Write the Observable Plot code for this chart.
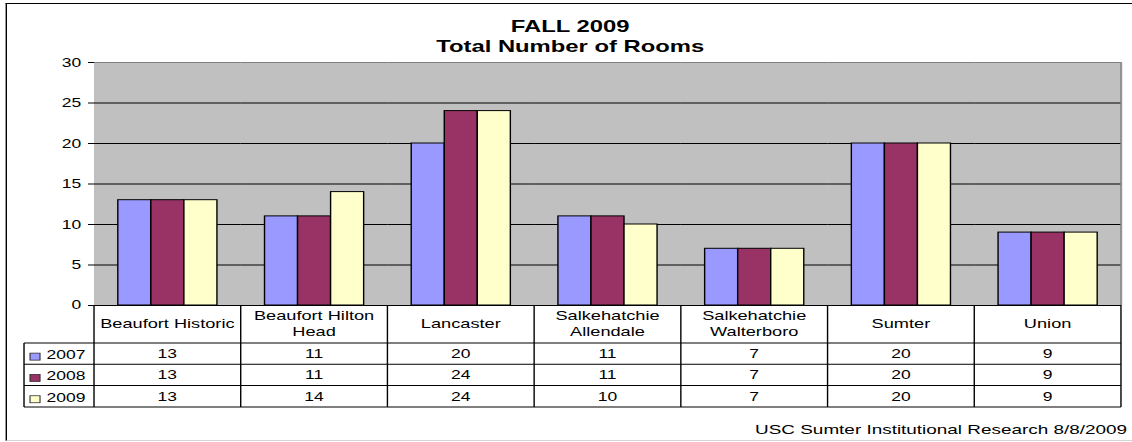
<!DOCTYPE html>
<html>
<head>
<meta charset="utf-8">
<script src="https://cdn.jsdelivr.net/npm/d3@7"></script>
<script src="https://cdn.jsdelivr.net/npm/@observablehq/plot@0.6"></script>
<style>
  html, body { margin: 0; padding: 0; background: #fff; overflow: hidden; }
  #page {
    position: absolute; left: 0; top: 0; height: 442px;
    transform-origin: 0 0;
    font-family: "Liberation Sans", Arial, sans-serif; color: #000;
  }
  #border {
    position: absolute; top: 3px; bottom: 1px; left: 4.3px; right: -10px;
    border-top: 1.5px solid #000; border-left: 1.4px solid #000;
    border-bottom: 1px solid #d4d4d4;
  }
  #title {
    position: absolute; top: 17px; left: 6px; right: 0;
    text-align: center; font-weight: bold; font-size: 17px; line-height: 20px;
  }
  #chart { position: absolute; left: 0; top: 55px; }
  #footer {
    position: absolute; top: 422px; left: 0;
    text-align: right; font-size: 13.5px; line-height: 16px;
  }
</style>
</head>
<body>
<div id="page">
  <div id="border"></div>
  <div id="title">FALL 2009<br>Total Number of Rooms</div>
  <div id="chart"></div>
  <div id="footer">USC Sumter Institutional Research 8/8/2009</div>
</div>
<script>
// Campuses, in table order, and how their names wrap in the table header
const categories = ["Beaufort Historic", "Beaufort Hilton Head", "Lancaster",
  "Salkehatchie Allendale", "Salkehatchie Walterboro", "Sumter", "Union"];
const categoryLines = [["Beaufort Historic"], ["Beaufort Hilton", "Head"], ["Lancaster"],
  ["Salkehatchie", "Allendale"], ["Salkehatchie", "Walterboro"], ["Sumter"], ["Union"]];

// Total number of rooms per campus, one series per fall term
const years = ["2007", "2008", "2009"];
const rooms2007 = [13, 11, 20, 11, 7, 20, 9];
const rooms2008 = [13, 11, 24, 11, 7, 20, 9];
const rooms2009 = [13, 14, 24, 10, 7, 20, 9];
const yearColors = ["#9999ff", "#993366", "#ffffcc"];
const yTicks = [0, 5, 10, 15, 20, 25, 30];

const series = [rooms2007, rooms2008, rooms2009];
const data = years.flatMap((year, j) =>
  categories.map((cat, i) => ({cat, year, value: series[j][i]})));

// The sheet is drawn in narrow units and widened by S, like the stretched workbook chart
const S = 1.4;
const W = 1132 / S;
const page = document.getElementById("page");
page.style.width = W + "px";
page.style.transform = `scaleX(${S})`;
document.getElementById("footer").style.width = (1127 / S) + "px";

const H = 387;
const marginLeft = 94 / S, marginRight = W - 1121 / S;
const marginTop = 7, marginBottom = 137;
const font = "'Liberation Sans', Arial, sans-serif";

const chart = Plot.plot({
  width: W,
  height: H,
  marginLeft, marginRight, marginTop, marginBottom,
  style: {fontFamily: font, fontSize: "12.5px", color: "#000", background: "transparent", overflow: "visible"},
  facet: {data, x: "cat"},
  fx: {domain: categories, padding: 0, round: false, axis: null, label: null},
  x: {domain: years, paddingInner: 0, paddingOuter: 0.72, round: false, axis: null},
  y: {domain: [0, 30], ticks: yTicks, tickSize: 6 / S, tickPadding: 8 / S - 0.3, line: true, label: null},
  color: {domain: years, range: yearColors},
  marks: [
    Plot.frame({fill: "#c0c0c0", stroke: "none", insetLeft: -0.5, insetRight: -0.5}),
    Plot.ruleY(yTicks.filter(t => t > 0 && t < 30), {stroke: "#000", strokeWidth: 1.1}),
    Plot.ruleY([30], {stroke: "#808080", strokeWidth: 1.2}),
    Plot.barY(data, {x: "year", y: "value", fill: "year", stroke: "#000", strokeWidth: 1}),
    Plot.ruleY([0], {stroke: "#000", strokeWidth: 1.2})
  ]
});
document.getElementById("chart").appendChild(chart);

// Data table under the plot, laid out on the chart's own facet and y scales
const fxs = chart.scale("fx");
const band = d3.scaleBand(categories, fxs && fxs.range ? fxs.range : [marginLeft, W - marginRight])
  .paddingInner(0).paddingOuter(0);
const ys = chart.scale("y");
const yScale = d3.scaleLinear(ys.domain, ys.range);

const svg = d3.select(chart);
const g = svg.append("g").attr("fill", "none").attr("stroke", "#000");
const right = band.range()[1];
const legendLeft = 24 / S;
const top0 = yScale(0);
const headerBottom = top0 + 38;
const rowH = 21.3;
const rowTops = years.map((_, j) => headerBottom + j * rowH);
const tableBottom = headerBottom + years.length * rowH;

// right edge of the plot area
g.append("line").attr("x1", right).attr("x2", right)
  .attr("y1", yScale(30)).attr("y2", top0).attr("stroke", "#808080");

// horizontal rules of the table
[headerBottom, ...rowTops.slice(1), tableBottom].forEach(y => {
  g.append("line").attr("x1", legendLeft).attr("x2", right).attr("y1", y).attr("y2", y);
});
// vertical rules between campuses
[...categories.map(c => band(c)), right].forEach(x => {
  g.append("line").attr("x1", x).attr("x2", x).attr("y1", top0).attr("y2", tableBottom);
});
g.append("line").attr("x1", legendLeft).attr("x2", legendLeft).attr("y1", headerBottom).attr("y2", tableBottom);

const t = svg.append("g").attr("font-family", font).attr("fill", "#000");
// header: campus names
categoryLines.forEach((lines, i) => {
  const cx = band(categories[i]) + band.bandwidth() / 2;
  const cy = (top0 + headerBottom) / 2 + 4;
  const text = t.append("text").attr("text-anchor", "middle").attr("font-size", 13);
  lines.forEach((line, k) => {
    text.append("tspan").attr("x", cx)
      .attr("y", cy + (k - (lines.length - 1) / 2) * 15.5)
      .text(line);
  });
});
// one row per year: swatch, year, values
years.forEach((year, j) => {
  const cy = rowTops[j] + rowH / 2;
  t.append("rect").attr("x", 30 / S).attr("y", cy - 0.5).attr("width", 10 / S).attr("height", 7)
    .attr("fill", yearColors[j]).attr("stroke", "#333").attr("stroke-width", 0.8);
  t.append("text").attr("text-anchor", "start").attr("x", 46.5 / S).attr("y", cy + 5.5)
    .attr("font-size", 12.5).text(year);
  categories.forEach((cat, i) => {
    t.append("text").attr("text-anchor", "middle").attr("font-size", 12.5)
      .attr("x", band(cat) + band.bandwidth() / 2).attr("y", cy + 4.5)
      .text(series[j][i]);
  });
});
</script>
</body>
</html>
